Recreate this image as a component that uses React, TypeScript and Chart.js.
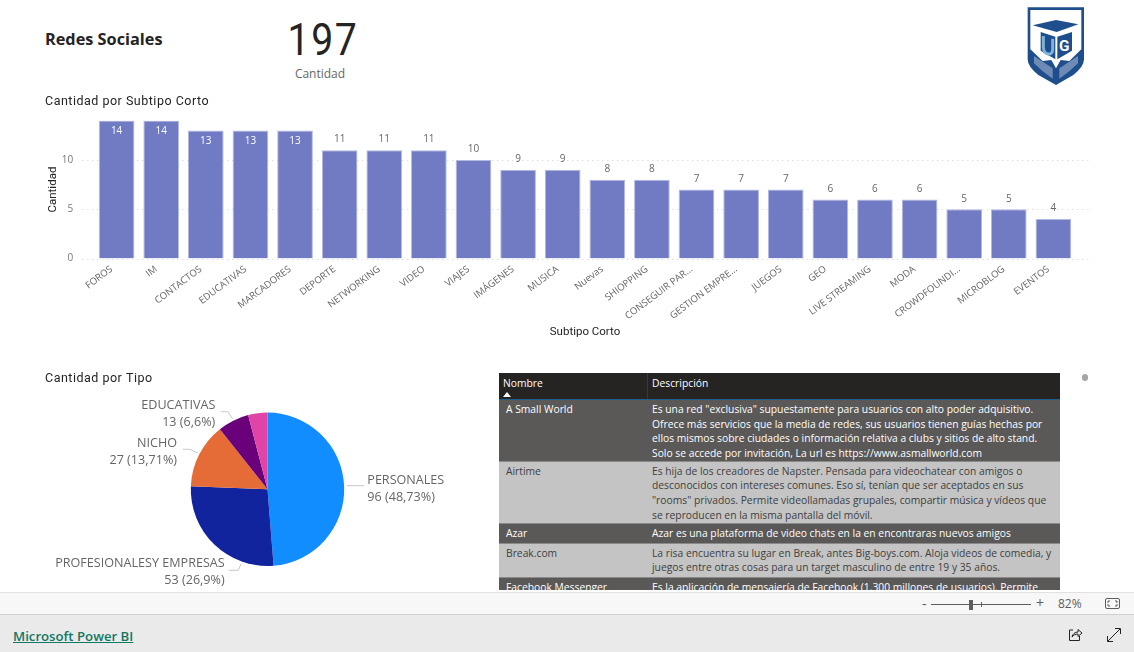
import React, { useEffect, useRef } from "react";
import { Chart, registerables } from "chart.js";

Chart.register(...registerables);

const subtipos = ["FOROS","IM","CONTACTOS","EDUCATIVAS","MARCADORES","DEPORTE","NETWORKING","VIDEO","VIAJES","IMÁGENES","MUSICA","Nuevas","SHIOPPING","CONSEGUIR PAR...","GESTION EMPRE...","JUEGOS","GEO","LIVE STREAMING","MODA","CROWDFOUNDI...","MICROBLOG","EVENTOS"];
const cantidades = [14,14,13,13,13,11,11,11,10,9,9,8,8,7,7,7,6,6,6,5,5,4];
const yTicks = [0,5,10];

const tipos = ["PERSONALES","PROFESIONALESY EMPRESAS","NICHO","EDUCATIVAS","OTROS"];
const tipoValores = [96,53,27,13,8];
const tipoTextos = ["96 (48,73%)","53 (26,9%)","27 (13,71%)","13 (6,6%)",""];
const tipoColores = ["#118DFF","#12239E","#E66C37","#6B007B","#E044A7"];

const tablaHeader = ["Nombre","Descripción"];
const tablaFilas: { n: string; d: string[] }[] = [
  { n: "A Small World", d: ["Es una red \"exclusiva\" supuestamente para usuarios con alto poder adquisitivo.","Ofrece más servicios que la media de redes, sus usuarios tienen guías hechas por","ellos mismos sobre ciudades o información relativa a clubs y sitios de alto stand.","Solo se accede por invitación, La url es https://www.asmallworld.com"] },
  { n: "Airtime", d: ["Es hija de los creadores de Napster. Pensada para videochatear con amigos o","desconocidos con intereses comunes. Eso sí, tenían que ser aceptados en sus","\"rooms\" privados. Permite videollamadas grupales, compartir música y vídeos que","se reproducen en la misma pantalla del móvil."] },
  { n: "Azar", d: ["Azar es una plataforma de video chats en la en encontraras nuevos amigos"] },
  { n: "Break.com", d: ["La risa encuentra su lugar en Break, antes Big-boys.com. Aloja videos de comedia, y","juegos entre otras cosas para un target masculino de entre 19 y 35 años."] },
  { n: "Facebook Messenger", d: ["Es la aplicación de mensajería de Facebook (1.300 millones de usuarios). Permite"] },
];

const UI_FONT = "'Open Sans', sans-serif";
const TITLE_FONT = "Roboto, sans-serif";

// Label layout for the pie (offsets from the canvas, matching the reference's callouts)
const pieCallouts = [
  { line: [[301.7,120.7],[319,120.7]], x: 322.3, y: 115, align: "left" },
  { line: [[196,199],[193.3,205.3],[183.7,205.3]], x: 179.7, y: 198.3, align: "right" },
  { line: [[152.7,88],[145,84.3],[138,84.3]], x: 132, y: 78.3, align: "right" },
  { line: [[187.7,54],[183,46.7],[175.7,46.7]], x: 170.3, y: 40.3, align: "right" },
];

const titleSpacing = {
  id: "titleSpacing",
  afterLayout(chart: any) {
    const tb = chart.titleBlock;
    if (!tb || tb.__spaced) return;
    const draw = tb.draw.bind(tb);
    tb.__spaced = true;
    tb.draw = () => {
      const { ctx } = chart;
      ctx.save();
      ctx.letterSpacing = "0.5px";
      draw();
      ctx.restore();
    };
  },
};

const barExtras = {
  id: "barExtras",
  beforeDatasetsDraw(chart: any) {
    const { ctx, scales } = chart;
    ctx.save();
    ctx.strokeStyle = "#CFCFCF";
    ctx.lineWidth = 1;
    ctx.setLineDash([1, 4]);
    yTicks.forEach((t) => {
      const y = Math.round(scales.y.getPixelForValue(t)) + 0.5;
      ctx.beginPath();
      ctx.moveTo(scales.x.left - 12, y);
      ctx.lineTo(scales.x.right + 14, y);
      ctx.stroke();
    });
    ctx.restore();
  },
  afterDatasetsDraw(chart: any) {
    const { ctx } = chart;
    const meta = chart.getDatasetMeta(0);
    ctx.save();
    ctx.font = `10px ${UI_FONT}`;
    ctx.textAlign = "center";
    ctx.textBaseline = "middle";
    meta.data.forEach((bar: any, i: number) => {
      const v = cantidades[i];
      const inside = v >= 13;
      ctx.fillStyle = inside ? "#FFFFFF" : "#666666";
      ctx.fillText(String(v), bar.x, inside ? bar.y + 11 : bar.y - 10.5);
    });
    ctx.restore();
  },
};

const pieLabels = {
  id: "pieLabels",
  afterDatasetsDraw(chart: any) {
    const { ctx } = chart;
    ctx.save();
    ctx.font = `12.6px ${UI_FONT}`;
    ctx.textBaseline = "middle";
    pieCallouts.forEach((c, i) => {
      ctx.strokeStyle = "#C8C8C8";
      ctx.lineWidth = 1;
      ctx.beginPath();
      c.line.forEach(([x, y], k) => (k ? ctx.lineTo(x, y) : ctx.moveTo(x, y)));
      ctx.stroke();
      ctx.fillStyle = "#666666";
      ctx.textAlign = c.align;
      ctx.fillText(tipos[i], c.x, c.y);
      ctx.fillText(tipoTextos[i], c.x, c.y + 17.6);
    });
    ctx.restore();
  },
};

function Logo() {
  const blue = "#1F4E8C";
  return (
    <svg width="90" height="90" viewBox="0 0 270 270" style={{ position: "absolute", left: 1010, top: 0 }}>
      <path d="M53 22H222V178Q222 200 190 225L138 255 85 225Q53 200 53 178Z" fill={blue} />
      <path d="M61 30H214V148L178 183 152 180 138 205 124 180 98 183 61 148Z" fill="#FFFFFF" />
      <path d="M72 168L128 205V236Q96 215 72 190Z" fill="#FFFFFF" opacity="0.35" />
      <path d="M204 168L148 205V236Q180 215 204 190Z" fill="#FFFFFF" opacity="0.35" />
      <path d="M68 76L138 60 205 73 140 96Z" fill={blue} />
      <path d="M92 96L136 110V178L92 152Z" fill={blue} />
      <path d="M142 110L186 96V152L142 178Z" fill={blue} />
      <path d="M100 108V140Q100 158 114 162 128 164 128 146V116" fill="none" stroke="#7FB2DA" strokeWidth="9" />
      <text x="163" y="152" fontSize="46" fontWeight="700" fontFamily="Roboto" fill="#FFFFFF" textAnchor="middle">G</text>
    </svg>
  );
}

export default function App() {
  const barRef = useRef<HTMLCanvasElement>(null);
  const pieRef = useRef<HTMLCanvasElement>(null);

  useEffect(() => {
    const bar = new Chart(barRef.current!, {
      type: "bar",
      plugins: [barExtras, titleSpacing],
      data: {
        labels: subtipos,
        datasets: [{
          data: cantidades,
          backgroundColor: "#717BC4",
          borderColor: "#B4B9E2",
          borderWidth: 1,
          barPercentage: 0.8,
          categoryPercentage: 1,
        }],
      },
      options: {
        animation: false,
        responsive: false,
        layout: { padding: { right: 29.3 } },
        plugins: {
          legend: { display: false },
          tooltip: { enabled: false },
          title: {
            display: true,
            text: "Cantidad por Subtipo Corto",
            align: "start",
            color: "#252423",
            font: { family: TITLE_FONT, size: 12.5, weight: "normal" },
            padding: { top: 4.8, bottom: 10.8 },
          },
        },
        scales: {
          x: {
            grid: { display: false },
            border: { display: false },
            afterFit: (s: any) => { s.height = 80.5; },
            ticks: { color: "#666666", font: { family: UI_FONT, size: 9.6 }, minRotation: 37, maxRotation: 37, autoSkip: false, padding: -3, labelOffset: -5 },
            title: { display: true, text: "Subtipo Corto", color: "#252423", font: { family: TITLE_FONT, size: 11.5 }, padding: 0 },
          },
          y: {
            min: 0,
            max: 14,
            grid: { display: false, drawTicks: false },
            border: { display: false },
            afterFit: (s: any) => { s.width = 49.3; },
            afterBuildTicks: (s: any) => { s.ticks = yTicks.map((value) => ({ value })); },
            ticks: { color: "#777777", font: { family: UI_FONT, size: 10 }, padding: 21 },
            title: { display: true, text: "Cantidad", color: "#252423", font: { family: TITLE_FONT, size: 11.5 }, padding: { top: 1, bottom: 0 } },
          },
        },
      } as any,
    });

    const pie = new Chart(pieRef.current!, {
      type: "pie",
      plugins: [pieLabels, titleSpacing],
      data: {
        labels: tipos,
        datasets: [{ data: tipoValores, backgroundColor: tipoColores, borderWidth: 0 }],
      },
      options: {
        animation: false,
        responsive: false,
        layout: { padding: { bottom: 26 } },
        plugins: {
          legend: { display: false },
          tooltip: { enabled: false },
          title: {
            display: true,
            text: "Cantidad por Tipo",
            align: "start",
            color: "#252423",
            font: { family: TITLE_FONT, size: 12.5, weight: "normal" },
            padding: { top: 6, bottom: 26.6 },
          },
        },
      } as any,
    });

    return () => { bar.destroy(); pie.destroy(); };
  }, []);

  const cell: React.CSSProperties = { position: "absolute", whiteSpace: "nowrap" };
  let rowTop = 27;
  const rowHeights = [61.5, 62, 20, 34, 30];

  return (
    <div style={{ position: "fixed", left: 0, top: 0, width: 1134, height: 652, overflow: "hidden", background: "#FFFFFF", fontFamily: UI_FONT }}>
      <div style={{ ...cell, left: 45, top: 28, fontSize: 16.3, fontWeight: 700, color: "#252423" }}>Redes Sociales</div>
      <div style={{ ...cell, left: 223, width: 200, textAlign: "center", top: 13, fontSize: 45, lineHeight: "54px", color: "#252423", fontFamily: TITLE_FONT, letterSpacing: 2, transform: "scaleX(0.87)" }}>197</div>
      <div style={{ ...cell, left: 222, width: 196, textAlign: "center", top: 65, fontSize: 12, color: "#666666" }}>Cantidad</div>
      <Logo />

      <canvas ref={barRef} width={1060} height={249} style={{ position: "absolute", left: 45, top: 90, width: 1060, height: 249 }} />
      <canvas ref={pieRef} width={445} height={227} style={{ position: "absolute", left: 45, top: 365, width: 445, height: 227 }} />

      <div style={{ position: "absolute", left: 499, top: 373, width: 561, height: 217, overflow: "hidden", fontSize: 10.3, lineHeight: "14.7px" }}>
        <div style={{ position: "absolute", left: 0, top: 0, width: 561, height: 26, background: "#252423", borderBottom: "1px solid #1F5F8F", color: "#FFFFFF" }}>
          <div style={{ ...cell, left: 4, top: 3 }}>{tablaHeader[0]}</div>
          <div style={{ ...cell, left: 153, top: 3 }}>{tablaHeader[1]}</div>
          <div style={{ position: "absolute", left: 148, top: 0, width: 1, height: 26, background: "#3A3938" }} />
          <svg width="8" height="5" style={{ position: "absolute", left: 4, top: 19 }}><path d="M0 5L4 0 8 5Z" fill="#FFFFFF" /></svg>
        </div>
        {tablaFilas.map((f, i) => {
          const top = rowTop;
          const h = rowHeights[i];
          rowTop += h;
          const dark = i % 2 === 0;
          return (
            <div key={f.n} style={{ position: "absolute", left: 0, top, width: 561, height: h, background: dark ? "#5A5958" : "#C4C4C4", color: dark ? "#FFFFFF" : "#404040", borderBottom: "1px solid #8A8A8A", boxSizing: "border-box" }}>
              <div style={{ ...cell, left: 7, top: 2 }}>{f.n}</div>
              <div style={{ ...cell, left: 153, top: 2 }}>{f.d.map((l) => <div key={l}>{l}</div>)}</div>
            </div>
          );
        })}
      </div>
      <div style={{ position: "absolute", left: 1082, top: 374, width: 6, height: 7, borderRadius: 4, background: "#A6A6A6" }} />

      <div style={{ position: "absolute", left: 0, top: 592, width: 1134, height: 23, background: "#F7F7F7", borderTop: "1px solid #E1E1E1", borderBottom: "1px solid #CFCFCF", boxSizing: "border-box", color: "#605E5C" }}>
        <div style={{ ...cell, left: 922, top: 1, fontSize: 14, lineHeight: "20px" }}>-</div>
        <div style={{ position: "absolute", left: 931, top: 11, width: 100, height: 1, background: "#605E5C" }} />
        <div style={{ position: "absolute", left: 969, top: 7, width: 4, height: 10, background: "#605E5C" }} />
        <div style={{ position: "absolute", left: 981, top: 9, width: 1, height: 5, background: "#605E5C" }} />
        <div style={{ ...cell, left: 1036, top: 0, fontSize: 14, lineHeight: "20px" }}>+</div>
        <div style={{ ...cell, left: 1058, top: 3, fontSize: 12, lineHeight: "16px" }}>82%</div>
        <svg width="16" height="12" style={{ position: "absolute", left: 1105, top: 5 }}>
          <rect x="0.5" y="0.5" width="14" height="10" rx="1.5" fill="none" stroke="#605E5C" />
          <path d="M3 5V3H5M10 3H12V5M12 6V8H10M5 8H3V6" fill="none" stroke="#605E5C" />
        </svg>
      </div>
      <div style={{ position: "absolute", left: 0, top: 615, width: 1134, height: 37, background: "#EAEAEA" }}>
        <div style={{ ...cell, left: 13, top: 12, fontSize: 13.2, fontWeight: 600, color: "#117865", textDecoration: "underline" }}>Microsoft Power BI</div>
        <svg width="16" height="16" style={{ position: "absolute", left: 1067, top: 12 }}>
          <path d="M6 3H2.5V13.5H12.5V9" fill="none" stroke="#252423" />
          <path d="M5 10C5.5 7 8 5 11 5V2.5L15 6 11 9.5V7C8.5 7 6.5 8 5 10Z" fill="none" stroke="#252423" />
        </svg>
        <svg width="16" height="16" style={{ position: "absolute", left: 1106, top: 12 }}>
          <path d="M1.5 14.5L14 2M9 1.5H14.5V7M1.5 9V14.5H7" fill="none" stroke="#252423" />
        </svg>
      </div>
    </div>
  );
}
